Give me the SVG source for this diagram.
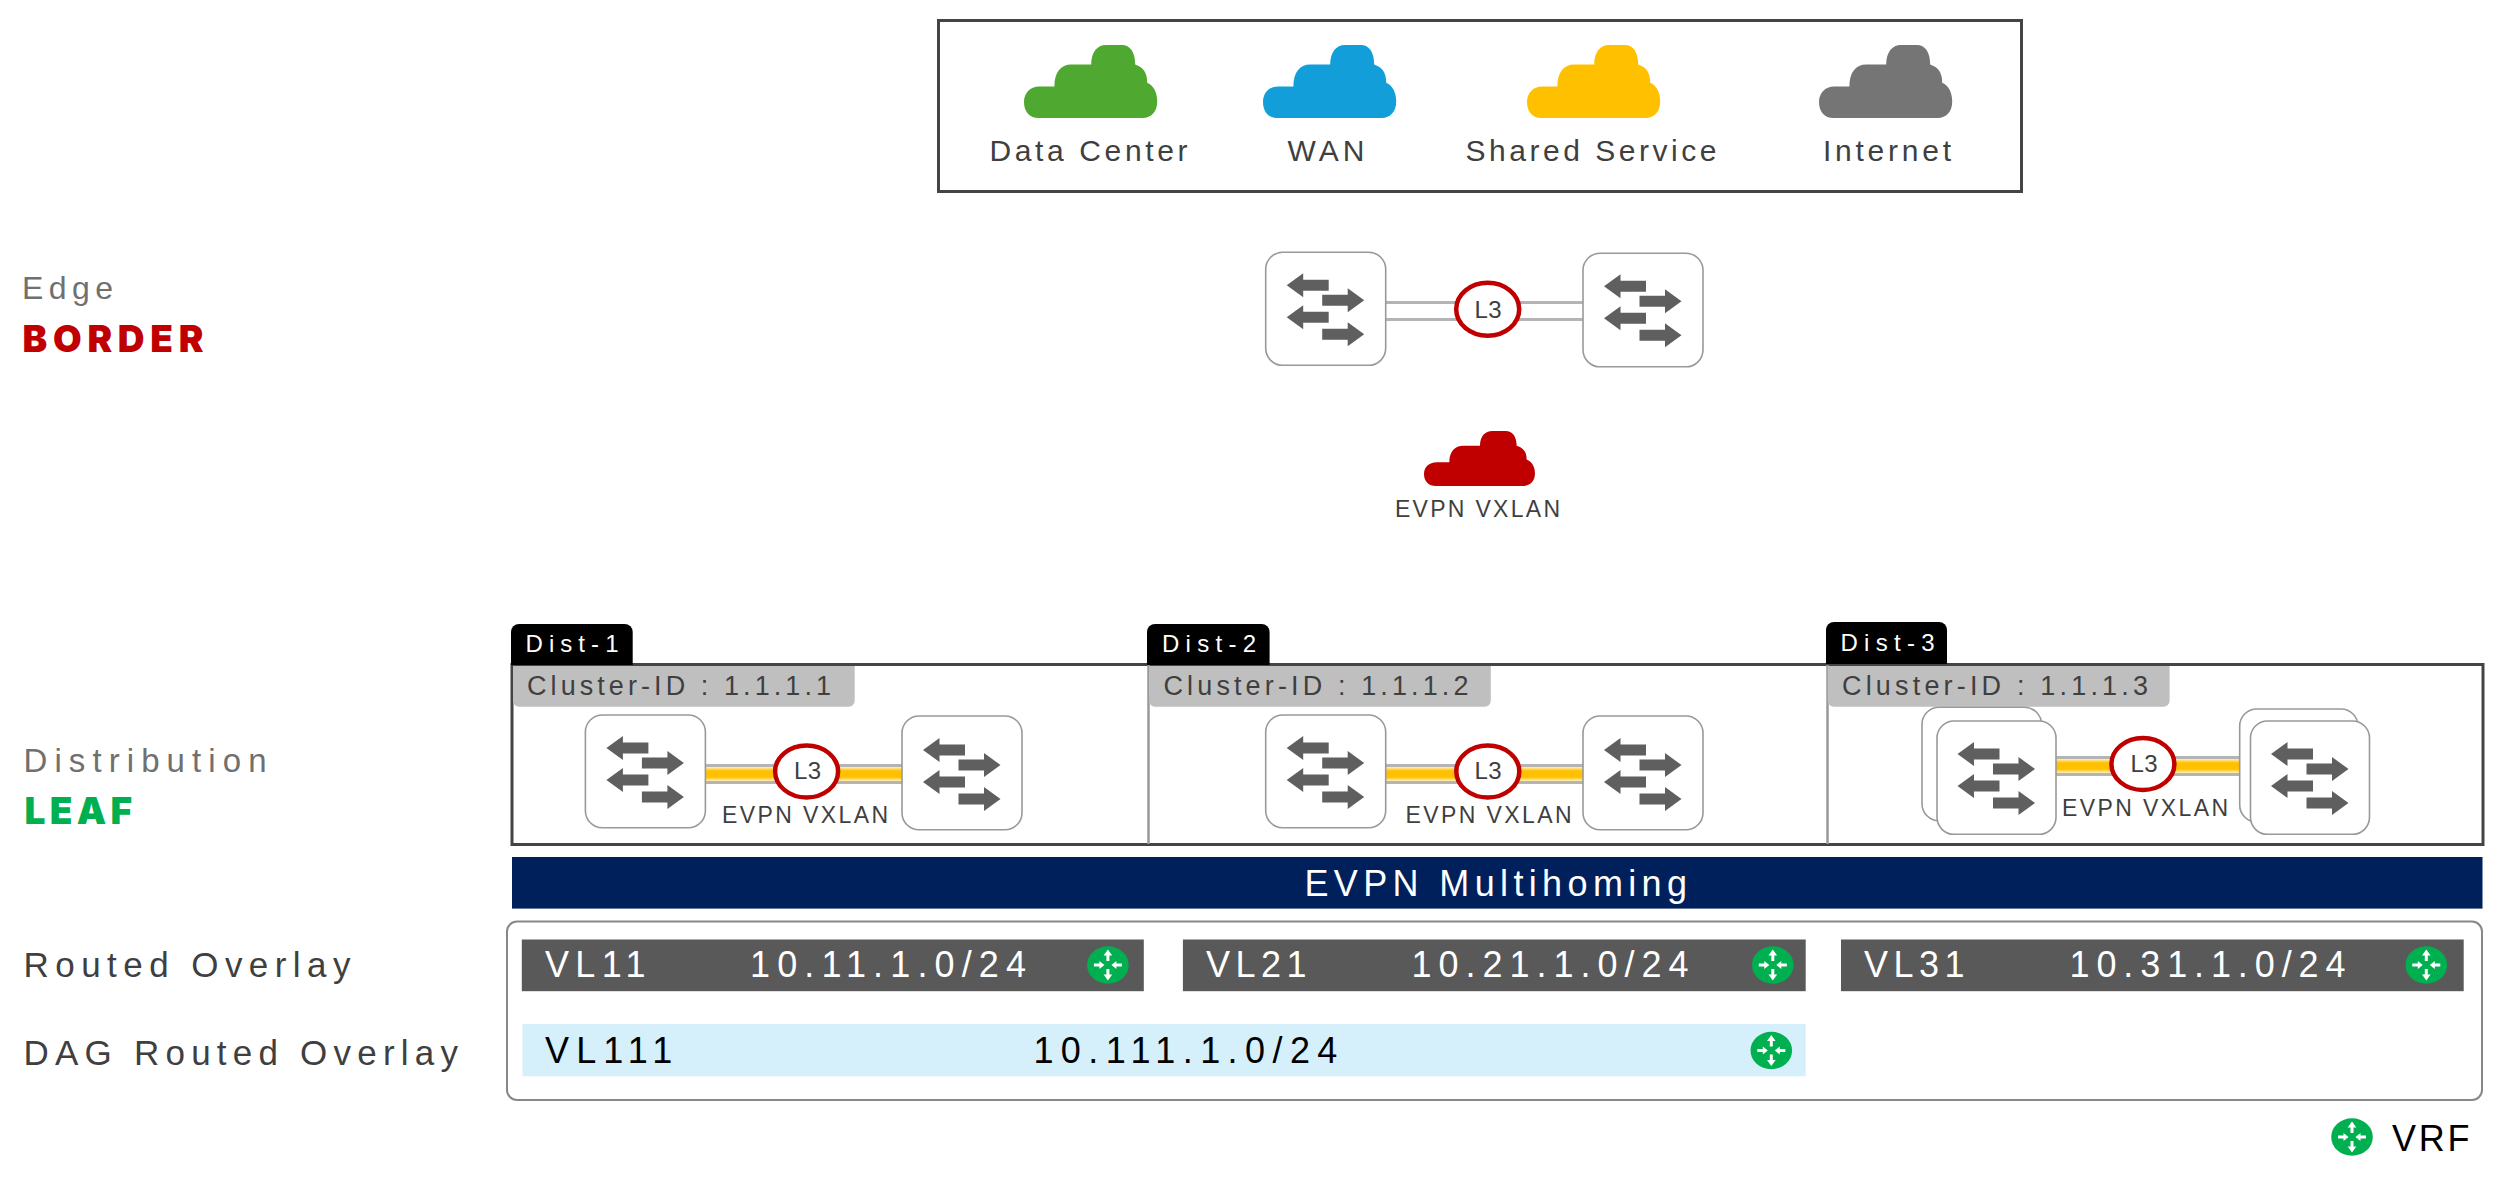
<svg xmlns="http://www.w3.org/2000/svg" width="2500" height="1179" viewBox="0 0 2500 1179">
<style>
text{font-family:"Liberation Sans",Arial,sans-serif;font-weight:400;fill:#3f3f3f}
.wt{fill:#fff}
.bk{fill:#000}
.gy{fill:#707070}
.head{font-family:"Inter","Liberation Sans",sans-serif;font-weight:900}
.red{fill:#c00000}.grn{fill:#00b050}
.sw{fill:#fff;stroke:#999;stroke-width:1.6}
.arr{fill:#5f5f5f}
.gl{stroke:#b4b4b4;stroke-width:3;fill:none}
.ring{fill:#fff;stroke:#c00000;stroke-width:4.500}
.tab{fill:#000}.cid{fill:#bfbfbf}
.dark{fill:#595959}
.rt{fill:#00b050}
.ra{fill:#fff}
</style>
<defs>
<path id="cloud" d="M36 164C14 164 0 150 0 128C0 108 15 93 38 93L76 93C76 62 92 44 118 44L168 44C168 16 183 0 205 0L245 0C265 0 278 16 278 44C298 50 308 62 308 85C325 92 333 108 333 127C333 150 318 164 297 164Z"/>
<g id="swa" class="arr">
<path d="M21 33L37.500 21V27.500H63V38.500H37.500V45Z"/>
<path d="M98.500 48L82 36V42.500H56.500V53.500H82V60Z"/>
<path d="M21 65L37.500 53V59.500H63V70.500H37.500V77Z"/>
<path d="M98.500 82L82 70V76.500H56.500V87.500H82V94Z"/>
</g>
<linearGradient id="band" x1="0" y1="0" x2="0" y2="1">
<stop offset="0" stop-color="#fff0bd"/><stop offset=".28" stop-color="#ffc000"/><stop offset=".72" stop-color="#ffc000"/><stop offset="1" stop-color="#fff0bd"/>
</linearGradient>
<g id="vrf">
<ellipse class="rt" rx="20.800" ry="18.800"/>
<path class="ra" d="M0-15.500L4.300-9.500H1.500V-4H-1.500V-9.500H-4.300ZM0 15.500L4.300 9.500H1.500V4H-1.500V9.500H-4.300ZM-3.500 0L-8.500-4V-1.500H-14V1.500H-8.500V4ZM3.500 0L8.500-4V-1.500H14V1.500H8.500V4Z"/>
</g>
</defs>

<g id="legend">
<rect x="938.500" y="20.500" width="1083" height="171" fill="#fff" stroke="#444" stroke-width="3"/>
<g id="legend-dc"><use href="#cloud" transform="translate(1024 45) scale(.4 .445)" fill="#4fa82f"/><text x="989.500" y="161" font-size="30" textLength="198">Data Center</text></g>
<g id="legend-wan"><use href="#cloud" transform="translate(1263 45) scale(.4 .445)" fill="#129fd9"/><text x="1287.500" y="161" font-size="30" textLength="77">WAN</text></g>
<g id="legend-ss"><use href="#cloud" transform="translate(1527 45) scale(.4 .445)" fill="#ffc000"/><text x="1465.500" y="161" font-size="30" textLength="251">Shared Service</text></g>
<g id="legend-inet"><use href="#cloud" transform="translate(1819 45) scale(.4 .445)" fill="#757575"/><text x="1823" y="161" font-size="30" textLength="128">Internet</text></g>
</g>

<g id="tier-labels">
<text class="gy" x="22" y="298.500" font-size="32" textLength="91">Edge</text>
<text class="head red" x="22.500" y="351.700" font-size="37" textLength="181">BORDER</text>
<text class="gy" x="23.500" y="772" font-size="33" textLength="243">Distribution</text>
<text class="head grn" x="24.500" y="824" font-size="37" textLength="107.500">LEAF</text>
<text x="23.500" y="976.700" font-size="35" textLength="327">Routed Overlay</text>
<text x="23.500" y="1064.700" font-size="35" textLength="434.500">DAG Routed Overlay</text>
</g>

<g id="frame">
<rect x="512" y="664.500" width="1971" height="180" fill="#fff" stroke="#444" stroke-width="3"/>
<path d="M1148.500 665V844M1827.500 665V844" stroke="#999" stroke-width="2.500" fill="none"/>
</g>

<g id="connectors">
<path class="gl" d="M1385 302.500H1583M1385 319.500H1583"/>
<rect x="705" y="767" width="197" height="14" fill="url(#band)"/>
<path class="gl" d="M705 765.500H902M705 782.500H902"/>
<rect x="1385" y="767" width="198" height="14" fill="url(#band)"/>
<path class="gl" d="M1385 765.500H1583M1385 782.500H1583"/>
<rect x="2055" y="759" width="185" height="14" fill="url(#band)"/>
<path class="gl" d="M2055 757.500H2240M2055 774.500H2240"/>
</g>

<g id="border-left"><rect class="sw" x="1265.700" y="252.300" width="120" height="113" rx="17"/><use href="#swa" x="1265.700" y="252.300"/></g>
<g id="border-right"><rect class="sw" x="1583" y="253.300" width="120" height="113.500" rx="17"/><use href="#swa" x="1583" y="253.300"/></g>
<g id="border-l3"><ellipse class="ring" cx="1487.700" cy="309.300" rx="31.500" ry="26.500"/><text x="1474.500" y="318" font-size="24" textLength="27">L3</text></g>
<g id="evpn-cloud"><use href="#cloud" transform="translate(1424 431) scale(.3333 .3354)" fill="#c00000"/><text x="1395" y="516.700" font-size="23" textLength="165">EVPN VXLAN</text></g>

<g id="dist-1">
<path class="tab" d="M511 665V632a8 8 0 0 1 8-8H624.700a8 8 0 0 1 8 8V665Z"/><text class="wt" x="525.500" y="652.300" font-size="24" textLength="93">Dist-1</text>
<path class="cid" d="M513 666H854.700V700.700a6 6 0 0 1-6 6H519a6 6 0 0 1-6-6Z"/><text x="527" y="695" font-size="27" textLength="304">Cluster-ID : 1.1.1.1</text>
<rect class="sw" x="585.400" y="715" width="120" height="112.700" rx="17"/><use href="#swa" x="585.400" y="715"/>
<rect class="sw" x="902" y="716" width="120" height="113.700" rx="17"/><use href="#swa" x="902" y="717"/>
<ellipse class="ring" cx="806.600" cy="771.500" rx="31.500" ry="26"/><text x="794" y="778.500" font-size="24" textLength="27">L3</text>
<text x="722" y="822.700" font-size="23" textLength="166">EVPN VXLAN</text>
</g>
<g id="dist-2">
<path class="tab" d="M1147 665V632a8 8 0 0 1 8-8H1261.600a8 8 0 0 1 8 8V665Z"/><text class="wt" x="1162" y="652.300" font-size="24" textLength="94">Dist-2</text>
<path class="cid" d="M1149 666H1490.800V700.700a6 6 0 0 1-6 6H1155a6 6 0 0 1-6-6Z"/><text x="1163.500" y="695" font-size="27" textLength="305">Cluster-ID : 1.1.1.2</text>
<rect class="sw" x="1265.700" y="715" width="120" height="112.700" rx="17"/><use href="#swa" x="1265.700" y="715"/>
<rect class="sw" x="1583" y="716" width="120" height="113.700" rx="17"/><use href="#swa" x="1583" y="717"/>
<ellipse class="ring" cx="1487.800" cy="771.500" rx="31.500" ry="26"/><text x="1474.500" y="778.500" font-size="24" textLength="27">L3</text>
<text x="1405.500" y="822.700" font-size="23" textLength="166">EVPN VXLAN</text>
</g>
<g id="dist-3">
<path class="tab" d="M1826 664V630a8 8 0 0 1 8-8H1939a8 8 0 0 1 8 8V664Z"/><text class="wt" x="1840.500" y="651" font-size="24" textLength="94">Dist-3</text>
<path class="cid" d="M1827.700 666H2169.600V700.700a6 6 0 0 1-6 6H1833.700a6 6 0 0 1-6-6Z"/><text x="1842" y="695" font-size="27" textLength="306">Cluster-ID : 1.1.1.3</text>
<rect class="sw" x="1922" y="707.300" width="119.500" height="113.400" rx="17"/>
<rect class="sw" x="1937" y="721" width="119" height="113.300" rx="17"/><use href="#swa" x="1936.500" y="721"/>
<rect class="sw" x="2239.700" y="709" width="118.300" height="113" rx="17"/>
<rect class="sw" x="2250.500" y="721" width="119" height="113.300" rx="17"/><use href="#swa" x="2250" y="721"/>
<ellipse class="ring" cx="2142.900" cy="764" rx="31.500" ry="26"/><text x="2130.500" y="771.700" font-size="24" textLength="27">L3</text>
<text x="2062" y="815.700" font-size="23" textLength="166">EVPN VXLAN</text>
</g>

<g id="multihoming"><rect x="512" y="857" width="1970.500" height="51.600" fill="#00205b"/><text class="wt" x="1304.500" y="896" font-size="36" textLength="382.500">EVPN Multihoming</text></g>

<g id="overlay">
<rect x="507" y="921.500" width="1975" height="178.500" rx="10" fill="#fff" stroke="#888" stroke-width="2"/>
<g id="vl11"><rect class="dark" x="521.800" y="939.500" width="622" height="51.700"/><text class="wt" x="545" y="977" font-size="36" textLength="100.500">VL11</text><text class="wt" x="750" y="977" font-size="36" textLength="276">10.11.1.0/24</text><use href="#vrf" x="1107.900" y="965"/></g>
<g id="vl21"><rect class="dark" x="1182.900" y="939.500" width="622.800" height="51.700"/><text class="wt" x="1206" y="977" font-size="36" textLength="100.500">VL21</text><text class="wt" x="1411.500" y="977" font-size="36" textLength="277">10.21.1.0/24</text><use href="#vrf" x="1772.800" y="965"/></g>
<g id="vl31"><rect class="dark" x="1841" y="939.500" width="622.700" height="51.700"/><text class="wt" x="1864" y="977" font-size="36" textLength="100.500">VL31</text><text class="wt" x="2069.500" y="977" font-size="36" textLength="276">10.31.1.0/24</text><use href="#vrf" x="2426.300" y="965"/></g>
<g id="vl111"><rect x="522.500" y="1024" width="1283.200" height="52.300" fill="#d5f0fb"/><text class="bk" x="545" y="1062.500" font-size="36" textLength="127.300">VL111</text><text class="bk" x="1033.400" y="1062.500" font-size="36" textLength="304">10.111.1.0/24</text><use href="#vrf" x="1771.300" y="1050.500"/></g>
</g>
<g id="vrf-legend"><use href="#vrf" x="2352" y="1137"/><text class="bk" x="2392" y="1150.700" font-size="36" textLength="77.500">VRF</text></g>
</svg>
